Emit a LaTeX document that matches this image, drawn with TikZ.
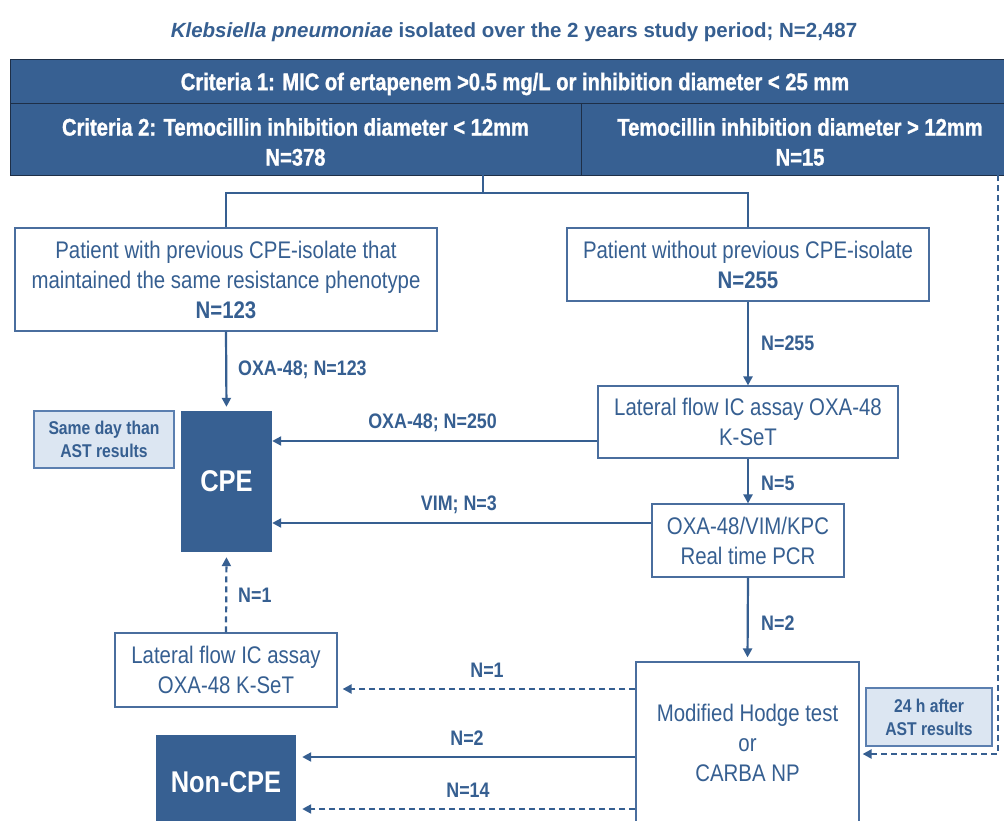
\documentclass[tikz,border=0pt]{standalone}
\usepackage{fontspec}
\setmainfont{Liberation Sans}[FakeStretch=0.85]
\newfontfamily\titlefont{Liberation Sans}
\newfontfamily\hdrfont{Liberation Sans Bold}[FakeStretch=0.84, FakeBold=1.2]
\usetikzlibrary{arrows.meta,calc}
\definecolor{navy}{HTML}{376092}
\definecolor{txt}{HTML}{365F91}
\definecolor{boxline}{HTML}{4A6E9E}
\definecolor{notefill}{HTML}{DCE6F2}
\definecolor{noteline}{HTML}{5B7FB0}
\definecolor{sep}{HTML}{1E2F47}
\tikzset{
  hdr/.style={fill=navy, draw=sep, line width=0.8pt, inner sep=0pt},
  hdrtext/.style={text=white, align=center, inner sep=0pt, yshift=-3pt,
              font=\hdrfont\fontsize{24}{30}\selectfont},
  box/.style={draw=boxline, line width=1.2pt, fill=white, text=txt, align=center, inner sep=0pt,
              font=\fontsize{24}{30}\selectfont},
  dark/.style={fill=navy, text=white, inner sep=0pt, font=\bfseries\fontsize{30}{36}\selectfont},
  note/.style={draw=noteline, fill=notefill, line width=1.2pt, text=txt, align=center, inner sep=0pt,
               font=\bfseries\fontsize{18.5}{23}\selectfont},
  lbl/.style={text=txt, inner sep=0pt, font=\bfseries\fontsize{21}{25}\selectfont},
  link/.style={draw=txt, line width=2.2pt},
  arr/.style={link, -{Triangle[length=9pt,width=9pt]}},
  darr/.style={arr, dash pattern=on 6pt off 4pt},
}
\begin{document}
\begin{tikzpicture}[x=1pt,y=-1pt]
\clip (0,0) rectangle (1004,821);
\fill[white] (0,0) rectangle (1004,821);

% title
\node[text=txt, inner sep=0pt, font=\titlefont\bfseries\fontsize{20.5}{24}\selectfont] (title) at (514,32)
  {\textit{Klebsiella pneumoniae} isolated over the 2 years study period; N=2,487};

% criteria header: cells, then their texts
\node[hdr, minimum width=1010, minimum height=44] (crit1) at (515,81) {};
\node[hdr, minimum width=571, minimum height=72] (crit2) at (295.5,139) {};
\node[hdr, minimum width=438, minimum height=72] (crit3) at (800,139) {};
\node[hdrtext] (crit1text) at (crit1.center)
  {Criteria 1: MIC of ertapenem >0.5 mg/L or inhibition diameter < 25 mm};
\node[hdrtext] (crit2text) at (crit2.center)
  {Criteria 2: Temocillin inhibition diameter < 12mm\\N=378};
\node[hdrtext] (crit3text) at (crit3.center)
  {Temocillin inhibition diameter > 12mm\\N=15};

% patient groups
\node[box, minimum width=422, minimum height=103] (boxA) at (226,279.5)
  {Patient with previous CPE-isolate that\\maintained the same resistance phenotype\\\textbf{N=123}};
\node[box, minimum width=362, minimum height=73] (boxB) at (748,264.5)
  {Patient without previous CPE-isolate\\\textbf{N=255}};

% tests
\node[box, minimum width=300, minimum height=72] (lat1) at (748,422)
  {Lateral flow IC assay OXA-48\\K-SeT};
\node[box, minimum width=192, minimum height=73] (pcr) at (748,540.5)
  {OXA-48/VIM/KPC\\Real time PCR};
\node[box, minimum width=223, minimum height=162] (hodge) at (747.5,743)
  {Modified Hodge test\\or\\CARBA NP};
\node[box, minimum width=222, minimum height=74] (lat2) at (226,670)
  {Lateral flow IC assay\\OXA-48 K-SeT};

% outcomes
\node[dark, minimum width=91, minimum height=141] (cpe) at (226.5,481.5) {CPE};
\node[dark, minimum width=140, minimum height=94] (noncpe) at (226,782) {Non-CPE};

% timing notes
\node[note, minimum width=140, minimum height=57] (same) at (104,439.5) {Same day than\\AST results};
\node[note, minimum width=126, minimum height=58] (later) at (929,717) {24 h after\\AST results};

% split below criteria 2
\coordinate (split) at (483,193);
\draw[link] (crit2.south -| split) -- (split) -| (boxA.north);
\draw[link] (split) -| (boxB.north);

% main flow
\draw[arr, shorten >=4pt] (boxA.south) -- (cpe.north);
\draw[arr] (boxB.south) -- (lat1.north);
\draw[arr] (lat1.south) -- (pcr.north);
\draw[arr, shorten >=4pt] (pcr.south) -- (hodge.north);
\draw[arr] (lat1.west |- 0,441) -- (cpe.east |- 0,441);
\draw[arr] (pcr.west |- 0,523) -- (cpe.east |- 0,523);
\draw[darr, shorten >=5pt] (lat2.north) -- (cpe.south);
\draw[darr, shorten >=5pt] (hodge.west |- 0,689) -- (lat2.east |- 0,689);
\draw[arr, shorten >=6pt] (hodge.west |- 0,757) -- (noncpe.east |- 0,757);
\draw[darr, shorten >=6pt] (hodge.west |- 0,809) -- (noncpe.east |- 0,809);

% temocillin > 12mm goes straight to the phenotypic test
\coordinate (turn) at (998,754);
\draw[darr, shorten >=3pt] (crit3.south -| turn) -- (turn) -- (turn -| hodge.east);

% counts
\node[lbl, anchor=west] (l1) at (238,370) {OXA-48; N=123};
\node[lbl, anchor=west] (l2) at (761,343) {N=255};
\node[lbl, anchor=east] (l3) at (497,423) {OXA-48; N=250};
\node[lbl, anchor=east] (l4) at (497,505) {VIM; N=3};
\node[lbl, anchor=west] (l5) at (761,483) {N=5};
\node[lbl, anchor=west] (l6) at (761,623) {N=2};
\node[lbl, anchor=west] (l7) at (238,595) {N=1};
\node[lbl] (l8) at (487,670) {N=1};
\node[lbl] (l9) at (467,738) {N=2};
\node[lbl] (l10) at (468,790) {N=14};
\end{tikzpicture}
\end{document}
